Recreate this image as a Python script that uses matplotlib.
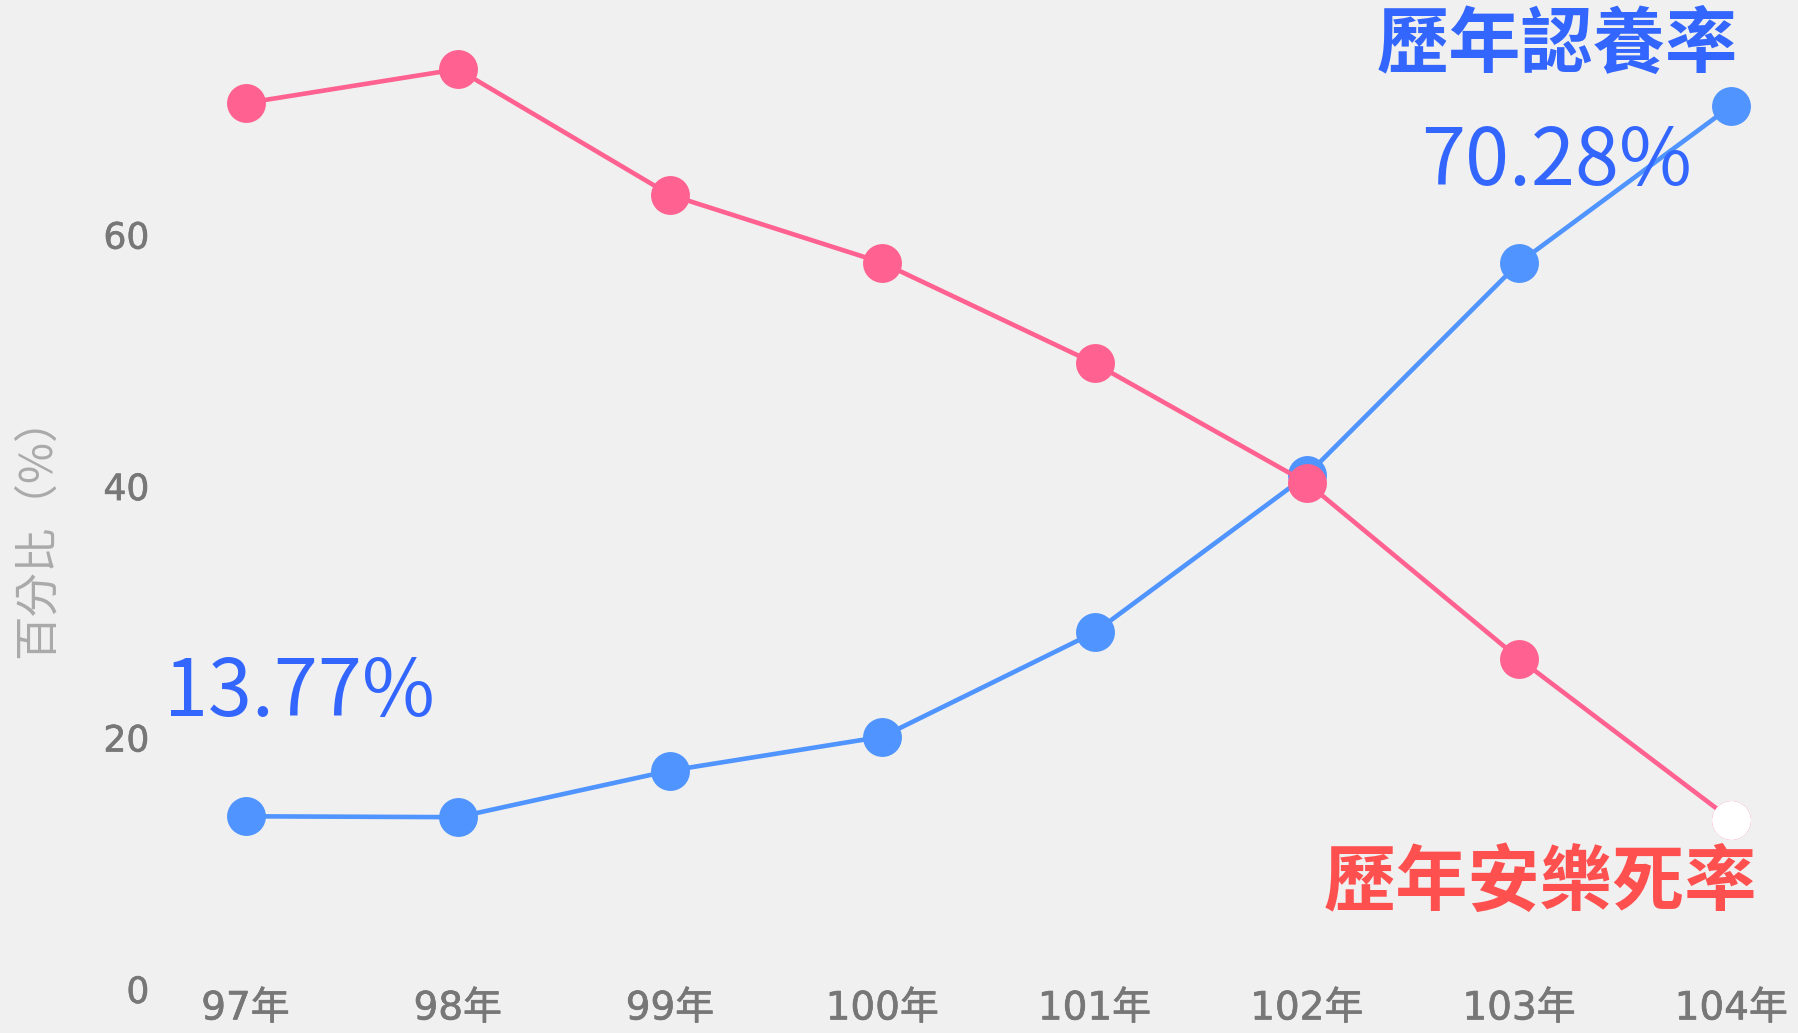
import numpy as np
import matplotlib
matplotlib.use("Agg")
import matplotlib.pyplot as plt
import matplotlib.patheffects as pe

# data
years = ["97年", "98年", "99年", "100年", "101年", "102年", "103年", "104年"]
adopt_rate = [13.77, 13.7, 17.4, 20.1, 28.4, 40.9, 57.8, 70.28]
euth_rate = [70.5, 73.2, 63.2, 57.8, 49.8, 40.3, 26.3, 13.5]
yticks = [0, 20, 40, 60]

BG = "#f0f0f0"
BLUE = "#4f94ff"
PINK = "#ff6190"
TXT_BLUE = "#3366ff"
TXT_RED = "#ff5050"
GRAY = "#777777"

CJK = ["Noto Sans CJK TC", "DejaVu Sans"]
TICKF = ["DejaVu Sans", "Noto Sans CJK TC"]

fig = plt.figure(figsize=(17.99, 10.33), dpi=100, facecolor=BG)
ax = fig.add_axes([0.09, 0.0422, 0.90, 0.9578], facecolor=BG)

x = np.arange(len(years))
ax.plot(x, adopt_rate, color=BLUE, lw=3.3, marker="o", ms=28,
        markeredgewidth=0, zorder=3, clip_on=False)
ax.plot(x, euth_rate, color=PINK, lw=3.3, marker="o", ms=28,
        markeredgewidth=0, zorder=4, clip_on=False)
# highlighted last point
ax.plot(x[-1], euth_rate[-1], marker="o", ms=28, color="white",
        markeredgewidth=0, zorder=5, clip_on=False)

ax.set_xlim(-0.394, 7.234)
ax.set_ylim(0, 78.7)
ax.set_xticks(x)
ax.set_xticklabels(years, family=TICKF, fontsize=28, color=GRAY)
ax.set_yticks(yticks)
ax.set_yticklabels([str(v) for v in yticks], family=TICKF, fontsize=26, color=GRAY)
ax.tick_params(axis="both", length=0)
ax.tick_params(axis="y", pad=9)
ax.tick_params(axis="x", pad=0)
for s in ax.spines.values():
    s.set_visible(False)
# slightly heavier tick text, like the reference
for lab in ax.get_xticklabels() + ax.get_yticklabels():
    lab.set_path_effects([pe.withStroke(linewidth=0.5, foreground=GRAY)])

fig.text(0.0204, 0.491, "百分比（%）", rotation=90, ha="center", va="center",
         family=CJK, fontsize=32, color="#aaaaaa")

# annotations
fig.text(0.8654, 0.956, "歷年認養率", ha="center", va="center",
         family=CJK, fontsize=52, fontweight="bold", color=TXT_BLUE)
fig.text(0.8654, 0.843, "70.28%", ha="center", va="center",
         family=CJK, fontsize=57, color=TXT_BLUE)
fig.text(0.1665, 0.329, "13.77%", ha="center", va="center",
         family=CJK, fontsize=57, color=TXT_BLUE)
fig.text(0.8565, 0.145, "歷年安樂死率", ha="center", va="center",
         family=CJK, fontsize=52, fontweight="bold", color=TXT_RED)

fig.savefig("out.png", dpi=100, facecolor=BG)
